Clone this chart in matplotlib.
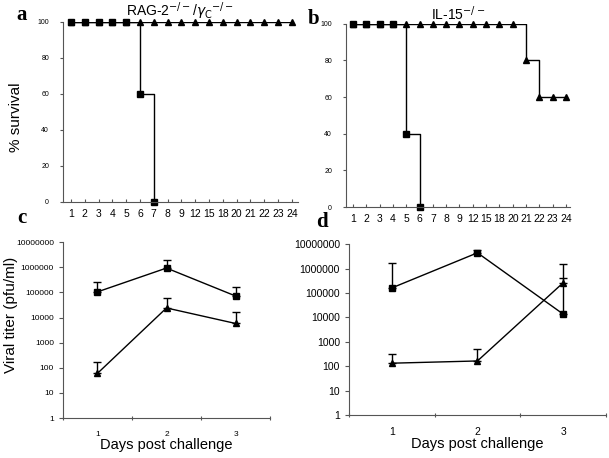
import matplotlib
matplotlib.use('Agg')
import matplotlib.pyplot as plt
import numpy as np

plt.rcParams['font.family'] = ['Liberation Sans', 'DejaVu Sans']

# survival data (a, b)
day_labels = ['1', '2', '3', '4', '5', '6', '7', '8', '9', '12', '15', '18', '20', '21', '22', '23', '24']
a_square = [100, 100, 100, 100, 100, 60, 0]
a_triangle = [100] * 17
b_square = [100, 100, 100, 100, 40, 0]
b_triangle = [100] * 13 + [80, 60, 60, 60]

# viral titer data (c, d)
days = [1, 2, 3]
c_square = [1.05e5, 9.3e5, 7.2e4]
c_square_up = [2.6e5, 1.9e6, 1.65e5]
c_triangle = [60, 2.4e4, 5.8e3]
c_triangle_up = [175, 6e4, 1.7e4]
d_square = [1.6e5, 4.4e6, 1.36e4]
d_square_up = [1.7e6, 5.7e6, 4e5]
d_triangle = [132, 163, 2.6e5]
d_triangle_up = [300, 490, 1.5e6]

fig = plt.figure(figsize=(6.09, 4.58), dpi=100)
spine_col = '#555555'


def survival(ax, sq, tri, tick_fs):
    x = np.arange(1, len(day_labels) + 1)
    xs = x[:len(sq)]
    ax.step(x, tri, where='post', color='k', lw=1)
    ax.plot(x, tri, ls='none', marker='^', color='k', ms=4, clip_on=False)
    ax.step(xs, sq, where='post', color='k', lw=1)
    ax.plot(xs, sq, ls='none', marker='s', color='k', ms=4.5, clip_on=False)
    ax.set_ylim(0, 100)
    ax.set_yticks([0, 20, 40, 60, 80, 100])
    ax.set_xticks(x)
    ax.set_xticklabels(day_labels, fontsize=tick_fs)
    ax.tick_params(axis='y', labelsize=5, length=2, color=spine_col, pad=8)
    ax.tick_params(axis='x', direction='in', length=2.5, color=spine_col, pad=5)
    for s in ['top', 'right']:
        ax.spines[s].set_visible(False)
    for s in ['left', 'bottom']:
        ax.spines[s].set_color(spine_col)


def titer(ax, sq, sq_up, tri, tri_up, fs, xfs):
    sq = np.array(sq)
    tri = np.array(tri)
    ax.errorbar(days, sq, yerr=[np.zeros(3), np.array(sq_up) - sq], fmt='none',
                ecolor='k', elinewidth=1, capsize=3)
    ax.errorbar(days, tri, yerr=[np.zeros(3), np.array(tri_up) - tri], fmt='none',
                ecolor='k', elinewidth=1, capsize=3)
    ax.plot(days, sq, color='k', lw=1, marker='s', ms=4.5)
    ax.plot(days, tri, color='k', lw=1, marker='^', ms=5)
    ax.set_yscale('log')
    ax.set_ylim(1, 1e7)
    yt = [10 ** i for i in range(8)]
    ax.set_yticks(yt)
    ax.set_yticklabels([str(v) for v in yt])
    ax.minorticks_off()
    ax.set_xlim(0.5, 3.5)
    ax.set_xticks([0.5, 1.5, 2.5, 3.5])
    ax.set_xticklabels([])
    ax.set_xticks(days, minor=True)
    ax.set_xticklabels([str(d) for d in days], minor=True)
    ax.tick_params(axis='x', which='minor', length=0, labelsize=xfs, pad=9)
    ax.tick_params(axis='x', which='major', direction='inout', length=3, color=spine_col)
    ax.tick_params(axis='y', labelsize=fs, length=3, color=spine_col)
    ax.set_xlabel('Days post challenge', fontsize=10.5, labelpad=0)
    for s in ['top', 'right']:
        ax.spines[s].set_visible(False)
    for s in ['left', 'bottom']:
        ax.spines[s].set_color(spine_col)


ax_a = fig.add_axes([0.1034, 0.559, 0.386, 0.393])
survival(ax_a, a_square, a_triangle, 7.5)
ax_a.set_xlim(0.42, 17.45)
ax_a.set_title(r'RAG-2$^{-/-}$/$\gamma_\mathrm{C}$$^{-/-}$', fontsize=10, pad=3)

ax_b = fig.add_axes([0.568, 0.548, 0.368, 0.400])
survival(ax_b, b_square, b_triangle, 7.5)
ax_b.set_xlim(0.47, 17.3)
ax_b.set_title(r'IL-15$^{-/-}$', fontsize=10, pad=3)

ax_c = fig.add_axes([0.1034, 0.0873, 0.34, 0.384])
titer(ax_c, c_square, c_square_up, c_triangle, c_triangle_up, 6, 6)

ax_d = fig.add_axes([0.573, 0.094, 0.422, 0.373])
titer(ax_d, d_square, d_square_up, d_triangle, d_triangle_up, 7.5, 7.5)

fig.text(16 / 609, 1 - 117 / 458, '% survival', fontsize=11, rotation=90,
         ha='center', va='center')
fig.text(11 / 609, 1 - 315 / 458, 'Viral titer (pfu/ml)', fontsize=11, rotation=90,
         ha='center', va='center')

for lab, x, y in [('a', 22, 15), ('b', 314, 19), ('c', 22, 218), ('d', 322, 222)]:
    fig.text(x / 609, 1 - y / 458, lab, fontsize=15, fontweight='bold',
             family='Liberation Serif', ha='center', va='center')

fig.savefig('out.png', dpi=100)
